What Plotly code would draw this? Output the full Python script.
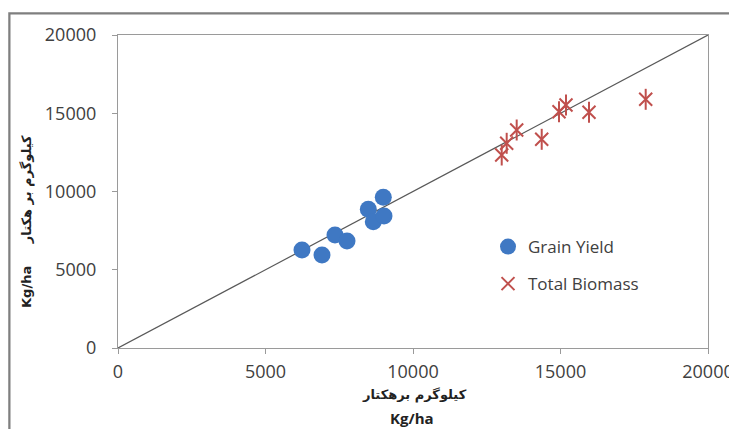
import plotly.graph_objects as go

grain_x = [6237, 6915, 7356, 7763, 8485, 8993, 8654, 9017]
grain_y = [6262, 5942, 7220, 6837, 8863, 9629, 8070, 8435]
bio_x = [13007, 13176, 13515, 14363, 14949, 15186, 15966, 17888]
bio_y = [12332, 13080, 13930, 13335, 15099, 15527, 15060, 15891]
ref_line = [0, 20000]
tick_vals = [0, 5000, 10000, 15000, 20000]
tick_text = ["0", "5000", "10000", "15000", "20000"]

OFF = 8  # page body margin
W, H = 737 - OFF, 429 - OFF
L, R, T, B = 110, 29, 27, 81
pw, ph = W - L - R, H - T - B

def px(x):
    return (x - OFF - L) / pw

def py(y):
    return (H - B - (y - OFF)) / ph

fig = go.Figure()
fig.add_trace(go.Scatter(x=ref_line, y=ref_line, mode="lines",
                         line=dict(color="#595959", width=1.2),
                         showlegend=False, hoverinfo="skip"))
fig.add_trace(go.Scatter(x=grain_x, y=grain_y, mode="markers", name="Grain Yield",
                         legendgroup="a",
                         marker=dict(symbol="circle", size=17, color="#3F78C3")))
fig.add_trace(go.Scatter(x=bio_x, y=bio_y, mode="markers", name="Total Biomass",
                         legendgroup="b",
                         marker=dict(symbol="x-thin-open", size=13, color="#C0504D",
                                     line=dict(color="#C0504D", width=2))))
fig.add_trace(go.Scatter(x=bio_x, y=bio_y, mode="markers", showlegend=False,
                         legendgroup="b", hoverinfo="skip",
                         marker=dict(symbol="line-ns-open", size=15, color="#C0504D",
                                     line=dict(color="#C0504D", width=2))))

axis_common = dict(range=[0, 20000], tickvals=tick_vals, ticktext=tick_text,
                   showgrid=False, zeroline=False, showline=True, mirror=True,
                   automargin=False,
                   linecolor="#9a9a9a", linewidth=1.2, ticks="outside",
                   tickcolor="#9a9a9a", ticklen=5,
                   tickfont=dict(family="Open Sans", size=18, color="#404040"))

fig.update_layout(
    width=W, height=H,
    margin=dict(l=L, r=R, t=T, b=B, pad=0),
    paper_bgcolor="white", plot_bgcolor="white",
    xaxis=dict(**axis_common, ticklabelstandoff=2),
    yaxis=dict(**axis_common, ticklabelstandoff=12),
    legend=dict(x=px(488), y=py(229), xanchor="left", yanchor="top",
                bgcolor="rgba(0,0,0,0)", tracegroupgap=12,
                font=dict(family="Open Sans", size=17, color="#404040")),
    showlegend=True,
    shapes=[
        dict(type="rect", xref="paper", yref="paper", layer="above",
             x0=px(9), x1=px(760), y0=py(450), y1=py(13),
             fillcolor="rgba(0,0,0,0)",
             line=dict(color="#7f7f7f", width=1.5)),
    ],
    annotations=[
        dict(text=" ", xref="paper", yref="paper",
             x=px(9), y=py(13), xanchor="left", yanchor="top",
             showarrow=False, width=760, height=440, borderpad=0,
             bordercolor="#7f7f7f", borderwidth=1.5, bgcolor="rgba(0,0,0,0)"),
        dict(text="<b>کیلوگرم برهکتار</b>", xref="paper", yref="paper",
             x=px(415), y=py(395), showarrow=False,
             xanchor="center", yanchor="middle",
             font=dict(family="DejaVu Sans", size=13, color="#222222")),
        dict(text="<b>Kg/ha</b>", xref="paper", yref="paper",
             x=px(412), y=py(418), showarrow=False,
             xanchor="center", yanchor="middle",
             font=dict(family="Open Sans", size=15, color="#222222")),
        dict(text="<b>Kg/ha     کیلوگرم بر هکتار</b>", xref="paper", yref="paper",
             x=px(27), y=py(222), showarrow=False, textangle=-90,
             xanchor="center", yanchor="middle",
             font=dict(family="DejaVu Sans", size=13, color="#222222")),
    ],
)

fig.write_html("out.html")
